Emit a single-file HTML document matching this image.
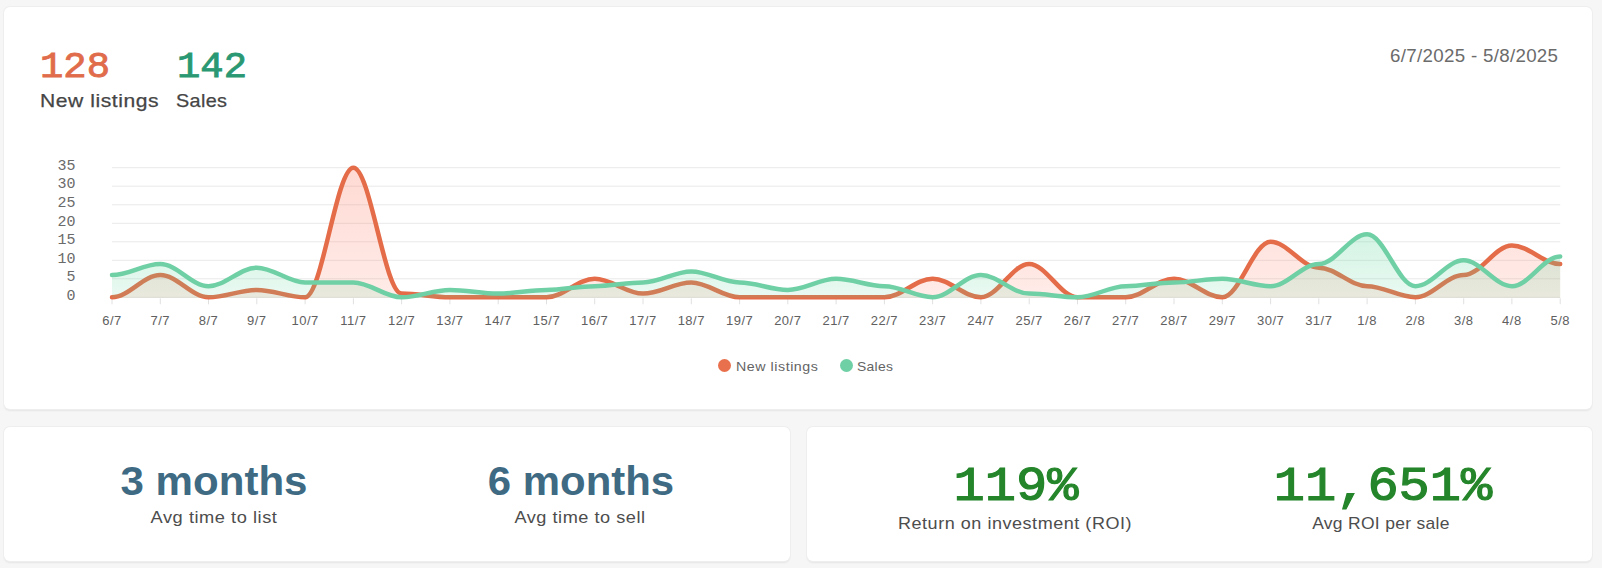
<!DOCTYPE html>
<html><head><meta charset="utf-8"><title>Dashboard</title>
<style>
html,body{margin:0;padding:0;}
body{width:1602px;height:568px;background:#f6f6f6;position:relative;overflow:hidden;font-family:"Liberation Sans",sans-serif;}
.card{position:absolute;background:#fff;border-radius:6px;box-shadow:0 0 0 1px #eeeeee,0 1.5px 2px rgba(0,0,0,0.07);}
.c1{left:4px;top:7px;width:1588px;height:402px;}
.c2{left:4px;top:427px;width:786px;height:134px;}
.c3{left:807px;top:427px;width:785px;height:134px;}
.t{position:absolute;white-space:nowrap;line-height:1;}
.L{transform-origin:0 50%;}
.C{transform-origin:50% 50%;}
.chart{position:absolute;left:0;top:0;}
.yl{font-family:"Liberation Mono",monospace;font-size:15px;fill:#6a6a6a;}
.xl{font-family:"Liberation Sans",sans-serif;font-size:13px;fill:#606060;}
.dot{position:absolute;width:13px;height:13px;border-radius:50%;}
</style></head><body>
<div class="card c1"></div>
<div class="card c2"></div>
<div class="card c3"></div>
<div class="t L" style="left:40px;top:49px;font:normal 37px 'Liberation Mono',monospace;color:#e06c4c;line-height:1;letter-spacing:0px;-webkit-text-stroke:0.9px #e06c4c;transform:scaleX(1.05);">128</div>
<div class="t L" style="left:177px;top:49px;font:normal 37px 'Liberation Mono',monospace;color:#2a9872;line-height:1;letter-spacing:0px;-webkit-text-stroke:0.9px #2a9872;transform:scaleX(1.05);">142</div>
<div class="t L" style="left:40px;top:91px;font:normal 19px 'Liberation Sans',sans-serif;color:#454545;line-height:1;letter-spacing:0.5px;-webkit-text-stroke:0.25px #454545;transform:scaleX(1.11);">New listings</div>
<div class="t L" style="left:176px;top:91px;font:normal 19px 'Liberation Sans',sans-serif;color:#454545;line-height:1;letter-spacing:0.3px;-webkit-text-stroke:0.25px #454545;transform:scaleX(1.045);">Sales</div>
<div class="t L" style="left:1390px;top:47px;font:normal 18px 'Liberation Sans',sans-serif;color:#6b6b6b;line-height:1;letter-spacing:0.3px;transform:scaleX(1.04);">6/7/2025 - 5/8/2025</div>
<div class="t C" style="left:214px;top:461px;font:bold 40px 'Liberation Sans',sans-serif;color:#3e6a83;line-height:1;letter-spacing:0px;transform:translateX(-50%) scaleX(1.052);">3 months</div>
<div class="t C" style="left:214px;top:509px;font:normal 17px 'Liberation Sans',sans-serif;color:#4d4d4d;line-height:1;letter-spacing:0.5px;transform:translateX(-50%) scaleX(1.073);">Avg time to list</div>
<div class="t C" style="left:581px;top:461px;font:bold 40px 'Liberation Sans',sans-serif;color:#3e6a83;line-height:1;letter-spacing:0px;transform:translateX(-50%) scaleX(1.048);">6 months</div>
<div class="t C" style="left:580px;top:509px;font:normal 17px 'Liberation Sans',sans-serif;color:#4d4d4d;line-height:1;letter-spacing:0.5px;transform:translateX(-50%) scaleX(1.067);">Avg time to sell</div>
<div class="t C" style="left:1016px;top:463px;font:normal 48px 'Liberation Mono',monospace;color:#24852a;line-height:1;letter-spacing:0px;-webkit-text-stroke:1.2px #24852a;transform:translateX(-50%) scaleX(1.084);">119%</div>
<div class="t C" style="left:1015px;top:515px;font:normal 17px 'Liberation Sans',sans-serif;color:#4d4d4d;line-height:1;letter-spacing:0.5px;transform:translateX(-50%) scaleX(1.06);">Return on investment (ROI)</div>
<div class="t C" style="left:1383px;top:463px;font:normal 48px 'Liberation Mono',monospace;color:#24852a;line-height:1;letter-spacing:0px;-webkit-text-stroke:1.2px #24852a;transform:translateX(-50%) scaleX(1.084);">11,651%</div>
<div class="t C" style="left:1381px;top:515px;font:normal 17px 'Liberation Sans',sans-serif;color:#4d4d4d;line-height:1;letter-spacing:0.3px;transform:translateX(-50%) scaleX(1.028);">Avg ROI per sale</div>
<div class="t L" style="left:736px;top:359.5px;font:normal 13px 'Liberation Sans',sans-serif;color:#646464;line-height:1;letter-spacing:0.5px;transform:scaleX(1.094);">New listings</div>
<div class="t L" style="left:857px;top:359.5px;font:normal 13px 'Liberation Sans',sans-serif;color:#646464;line-height:1;letter-spacing:0.3px;transform:scaleX(1.068);">Sales</div>
<svg class="chart" width="1602" height="568" viewBox="0 0 1602 568">
<defs><linearGradient id="go" x1="0" y1="0" x2="0" y2="1"><stop offset="0" stop-color="#ff6a50" stop-opacity="0.25"/><stop offset="1" stop-color="#ff6a50" stop-opacity="0.13"/></linearGradient><linearGradient id="gg" x1="0" y1="0" x2="0" y2="1"><stop offset="0" stop-color="#64d7a0" stop-opacity="0.28"/><stop offset="1" stop-color="#64d7a0" stop-opacity="0.14"/></linearGradient></defs>
<line x1="112.0" x2="1560.2" y1="297.3" y2="297.3" stroke="#e9e9e9" stroke-width="1"/>
<line x1="112.0" x2="1560.2" y1="278.8" y2="278.8" stroke="#e9e9e9" stroke-width="1"/>
<line x1="112.0" x2="1560.2" y1="260.3" y2="260.3" stroke="#e9e9e9" stroke-width="1"/>
<line x1="112.0" x2="1560.2" y1="241.8" y2="241.8" stroke="#e9e9e9" stroke-width="1"/>
<line x1="112.0" x2="1560.2" y1="223.3" y2="223.3" stroke="#e9e9e9" stroke-width="1"/>
<line x1="112.0" x2="1560.2" y1="204.8" y2="204.8" stroke="#e9e9e9" stroke-width="1"/>
<line x1="112.0" x2="1560.2" y1="186.2" y2="186.2" stroke="#e9e9e9" stroke-width="1"/>
<line x1="112.0" x2="1560.2" y1="167.7" y2="167.7" stroke="#e9e9e9" stroke-width="1"/>
<text x="75.5" y="299.5" text-anchor="end" class="yl">0</text>
<text x="75.5" y="281.0" text-anchor="end" class="yl">5</text>
<text x="75.5" y="262.5" text-anchor="end" class="yl">10</text>
<text x="75.5" y="244.0" text-anchor="end" class="yl">15</text>
<text x="75.5" y="225.5" text-anchor="end" class="yl">20</text>
<text x="75.5" y="206.9" text-anchor="end" class="yl">25</text>
<text x="75.5" y="188.4" text-anchor="end" class="yl">30</text>
<text x="75.5" y="169.9" text-anchor="end" class="yl">35</text>
<line x1="112.0" x2="112.0" y1="298.3" y2="304.3" stroke="#e0e0e0" stroke-width="1"/>
<line x1="160.3" x2="160.3" y1="298.3" y2="304.3" stroke="#e0e0e0" stroke-width="1"/>
<line x1="208.5" x2="208.5" y1="298.3" y2="304.3" stroke="#e0e0e0" stroke-width="1"/>
<line x1="256.8" x2="256.8" y1="298.3" y2="304.3" stroke="#e0e0e0" stroke-width="1"/>
<line x1="305.1" x2="305.1" y1="298.3" y2="304.3" stroke="#e0e0e0" stroke-width="1"/>
<line x1="353.4" x2="353.4" y1="298.3" y2="304.3" stroke="#e0e0e0" stroke-width="1"/>
<line x1="401.6" x2="401.6" y1="298.3" y2="304.3" stroke="#e0e0e0" stroke-width="1"/>
<line x1="449.9" x2="449.9" y1="298.3" y2="304.3" stroke="#e0e0e0" stroke-width="1"/>
<line x1="498.2" x2="498.2" y1="298.3" y2="304.3" stroke="#e0e0e0" stroke-width="1"/>
<line x1="546.5" x2="546.5" y1="298.3" y2="304.3" stroke="#e0e0e0" stroke-width="1"/>
<line x1="594.7" x2="594.7" y1="298.3" y2="304.3" stroke="#e0e0e0" stroke-width="1"/>
<line x1="643.0" x2="643.0" y1="298.3" y2="304.3" stroke="#e0e0e0" stroke-width="1"/>
<line x1="691.3" x2="691.3" y1="298.3" y2="304.3" stroke="#e0e0e0" stroke-width="1"/>
<line x1="739.6" x2="739.6" y1="298.3" y2="304.3" stroke="#e0e0e0" stroke-width="1"/>
<line x1="787.8" x2="787.8" y1="298.3" y2="304.3" stroke="#e0e0e0" stroke-width="1"/>
<line x1="836.1" x2="836.1" y1="298.3" y2="304.3" stroke="#e0e0e0" stroke-width="1"/>
<line x1="884.4" x2="884.4" y1="298.3" y2="304.3" stroke="#e0e0e0" stroke-width="1"/>
<line x1="932.6" x2="932.6" y1="298.3" y2="304.3" stroke="#e0e0e0" stroke-width="1"/>
<line x1="980.9" x2="980.9" y1="298.3" y2="304.3" stroke="#e0e0e0" stroke-width="1"/>
<line x1="1029.2" x2="1029.2" y1="298.3" y2="304.3" stroke="#e0e0e0" stroke-width="1"/>
<line x1="1077.5" x2="1077.5" y1="298.3" y2="304.3" stroke="#e0e0e0" stroke-width="1"/>
<line x1="1125.7" x2="1125.7" y1="298.3" y2="304.3" stroke="#e0e0e0" stroke-width="1"/>
<line x1="1174.0" x2="1174.0" y1="298.3" y2="304.3" stroke="#e0e0e0" stroke-width="1"/>
<line x1="1222.3" x2="1222.3" y1="298.3" y2="304.3" stroke="#e0e0e0" stroke-width="1"/>
<line x1="1270.6" x2="1270.6" y1="298.3" y2="304.3" stroke="#e0e0e0" stroke-width="1"/>
<line x1="1318.8" x2="1318.8" y1="298.3" y2="304.3" stroke="#e0e0e0" stroke-width="1"/>
<line x1="1367.1" x2="1367.1" y1="298.3" y2="304.3" stroke="#e0e0e0" stroke-width="1"/>
<line x1="1415.4" x2="1415.4" y1="298.3" y2="304.3" stroke="#e0e0e0" stroke-width="1"/>
<line x1="1463.7" x2="1463.7" y1="298.3" y2="304.3" stroke="#e0e0e0" stroke-width="1"/>
<line x1="1511.9" x2="1511.9" y1="298.3" y2="304.3" stroke="#e0e0e0" stroke-width="1"/>
<line x1="1560.2" x2="1560.2" y1="298.3" y2="304.3" stroke="#e0e0e0" stroke-width="1"/>
<text x="112.0" y="325" text-anchor="middle" class="xl" letter-spacing="0.5">6/7</text>
<text x="160.3" y="325" text-anchor="middle" class="xl" letter-spacing="0.5">7/7</text>
<text x="208.5" y="325" text-anchor="middle" class="xl" letter-spacing="0.5">8/7</text>
<text x="256.8" y="325" text-anchor="middle" class="xl" letter-spacing="0.5">9/7</text>
<text x="305.1" y="325" text-anchor="middle" class="xl" letter-spacing="0.5">10/7</text>
<text x="353.4" y="325" text-anchor="middle" class="xl" letter-spacing="0.5">11/7</text>
<text x="401.6" y="325" text-anchor="middle" class="xl" letter-spacing="0.5">12/7</text>
<text x="449.9" y="325" text-anchor="middle" class="xl" letter-spacing="0.5">13/7</text>
<text x="498.2" y="325" text-anchor="middle" class="xl" letter-spacing="0.5">14/7</text>
<text x="546.5" y="325" text-anchor="middle" class="xl" letter-spacing="0.5">15/7</text>
<text x="594.7" y="325" text-anchor="middle" class="xl" letter-spacing="0.5">16/7</text>
<text x="643.0" y="325" text-anchor="middle" class="xl" letter-spacing="0.5">17/7</text>
<text x="691.3" y="325" text-anchor="middle" class="xl" letter-spacing="0.5">18/7</text>
<text x="739.6" y="325" text-anchor="middle" class="xl" letter-spacing="0.5">19/7</text>
<text x="787.8" y="325" text-anchor="middle" class="xl" letter-spacing="0.5">20/7</text>
<text x="836.1" y="325" text-anchor="middle" class="xl" letter-spacing="0.5">21/7</text>
<text x="884.4" y="325" text-anchor="middle" class="xl" letter-spacing="0.5">22/7</text>
<text x="932.6" y="325" text-anchor="middle" class="xl" letter-spacing="0.5">23/7</text>
<text x="980.9" y="325" text-anchor="middle" class="xl" letter-spacing="0.5">24/7</text>
<text x="1029.2" y="325" text-anchor="middle" class="xl" letter-spacing="0.5">25/7</text>
<text x="1077.5" y="325" text-anchor="middle" class="xl" letter-spacing="0.5">26/7</text>
<text x="1125.7" y="325" text-anchor="middle" class="xl" letter-spacing="0.5">27/7</text>
<text x="1174.0" y="325" text-anchor="middle" class="xl" letter-spacing="0.5">28/7</text>
<text x="1222.3" y="325" text-anchor="middle" class="xl" letter-spacing="0.5">29/7</text>
<text x="1270.6" y="325" text-anchor="middle" class="xl" letter-spacing="0.5">30/7</text>
<text x="1318.8" y="325" text-anchor="middle" class="xl" letter-spacing="0.5">31/7</text>
<text x="1367.1" y="325" text-anchor="middle" class="xl" letter-spacing="0.5">1/8</text>
<text x="1415.4" y="325" text-anchor="middle" class="xl" letter-spacing="0.5">2/8</text>
<text x="1463.7" y="325" text-anchor="middle" class="xl" letter-spacing="0.5">3/8</text>
<text x="1511.9" y="325" text-anchor="middle" class="xl" letter-spacing="0.5">4/8</text>
<text x="1560.2" y="325" text-anchor="middle" class="xl" letter-spacing="0.5">5/8</text>
<path d="M112.00,297.30 C128.90,297.30 143.38,275.09 160.27,275.09 C177.17,275.09 191.65,297.30 208.55,297.30 C225.44,297.30 239.92,289.90 256.82,289.90 C273.72,289.90 288.20,297.30 305.09,297.30 C321.99,297.30 336.47,167.73 353.37,167.73 C370.26,167.73 384.74,293.60 401.64,293.60 C418.54,293.60 433.02,297.30 449.91,297.30 C466.81,297.30 481.29,297.30 498.19,297.30 C515.08,297.30 529.56,297.30 546.46,297.30 C563.36,297.30 577.84,278.79 594.73,278.79 C611.63,278.79 626.11,293.60 643.01,293.60 C659.90,293.60 674.38,282.49 691.28,282.49 C708.18,282.49 722.66,297.30 739.55,297.30 C756.45,297.30 770.93,297.30 787.83,297.30 C804.72,297.30 819.20,297.30 836.10,297.30 C853.00,297.30 867.48,297.30 884.37,297.30 C901.27,297.30 915.75,278.79 932.65,278.79 C949.54,278.79 964.02,297.30 980.92,297.30 C997.82,297.30 1012.30,263.98 1029.19,263.98 C1046.09,263.98 1060.57,297.30 1077.47,297.30 C1094.36,297.30 1108.84,297.30 1125.74,297.30 C1142.64,297.30 1157.12,278.79 1174.01,278.79 C1190.91,278.79 1205.39,297.30 1222.29,297.30 C1239.18,297.30 1253.66,241.77 1270.56,241.77 C1287.46,241.77 1301.94,267.68 1318.83,267.68 C1335.73,267.68 1350.21,286.19 1367.11,286.19 C1384.00,286.19 1398.48,297.30 1415.38,297.30 C1432.28,297.30 1446.76,275.09 1463.65,275.09 C1480.55,275.09 1495.03,245.47 1511.93,245.47 C1528.82,245.47 1543.30,263.98 1560.20,263.98 L1560.20,297.80 L112.00,297.80 Z" fill="url(#go)"/>
<path d="M112.00,297.30 C128.90,297.30 143.38,275.09 160.27,275.09 C177.17,275.09 191.65,297.30 208.55,297.30 C225.44,297.30 239.92,289.90 256.82,289.90 C273.72,289.90 288.20,297.30 305.09,297.30 C321.99,297.30 336.47,167.73 353.37,167.73 C370.26,167.73 384.74,293.60 401.64,293.60 C418.54,293.60 433.02,297.30 449.91,297.30 C466.81,297.30 481.29,297.30 498.19,297.30 C515.08,297.30 529.56,297.30 546.46,297.30 C563.36,297.30 577.84,278.79 594.73,278.79 C611.63,278.79 626.11,293.60 643.01,293.60 C659.90,293.60 674.38,282.49 691.28,282.49 C708.18,282.49 722.66,297.30 739.55,297.30 C756.45,297.30 770.93,297.30 787.83,297.30 C804.72,297.30 819.20,297.30 836.10,297.30 C853.00,297.30 867.48,297.30 884.37,297.30 C901.27,297.30 915.75,278.79 932.65,278.79 C949.54,278.79 964.02,297.30 980.92,297.30 C997.82,297.30 1012.30,263.98 1029.19,263.98 C1046.09,263.98 1060.57,297.30 1077.47,297.30 C1094.36,297.30 1108.84,297.30 1125.74,297.30 C1142.64,297.30 1157.12,278.79 1174.01,278.79 C1190.91,278.79 1205.39,297.30 1222.29,297.30 C1239.18,297.30 1253.66,241.77 1270.56,241.77 C1287.46,241.77 1301.94,267.68 1318.83,267.68 C1335.73,267.68 1350.21,286.19 1367.11,286.19 C1384.00,286.19 1398.48,297.30 1415.38,297.30 C1432.28,297.30 1446.76,275.09 1463.65,275.09 C1480.55,275.09 1495.03,245.47 1511.93,245.47 C1528.82,245.47 1543.30,263.98 1560.20,263.98" fill="none" stroke="#e46c49" stroke-width="4.5" stroke-linecap="round"/>
<path d="M112.00,275.09 C128.90,275.09 143.38,263.98 160.27,263.98 C177.17,263.98 191.65,286.19 208.55,286.19 C225.44,286.19 239.92,267.68 256.82,267.68 C273.72,267.68 288.20,282.49 305.09,282.49 C321.99,282.49 336.47,282.49 353.37,282.49 C370.26,282.49 384.74,297.30 401.64,297.30 C418.54,297.30 433.02,289.90 449.91,289.90 C466.81,289.90 481.29,293.60 498.19,293.60 C515.08,293.60 529.56,289.90 546.46,289.90 C563.36,289.90 577.84,286.19 594.73,286.19 C611.63,286.19 626.11,282.49 643.01,282.49 C659.90,282.49 674.38,271.39 691.28,271.39 C708.18,271.39 722.66,282.49 739.55,282.49 C756.45,282.49 770.93,289.90 787.83,289.90 C804.72,289.90 819.20,278.79 836.10,278.79 C853.00,278.79 867.48,286.19 884.37,286.19 C901.27,286.19 915.75,297.30 932.65,297.30 C949.54,297.30 964.02,275.09 980.92,275.09 C997.82,275.09 1012.30,293.60 1029.19,293.60 C1046.09,293.60 1060.57,297.30 1077.47,297.30 C1094.36,297.30 1108.84,286.19 1125.74,286.19 C1142.64,286.19 1157.12,282.49 1174.01,282.49 C1190.91,282.49 1205.39,278.79 1222.29,278.79 C1239.18,278.79 1253.66,286.19 1270.56,286.19 C1287.46,286.19 1301.94,263.98 1318.83,263.98 C1335.73,263.98 1350.21,234.37 1367.11,234.37 C1384.00,234.37 1398.48,286.19 1415.38,286.19 C1432.28,286.19 1446.76,260.28 1463.65,260.28 C1480.55,260.28 1495.03,286.19 1511.93,286.19 C1528.82,286.19 1543.30,256.58 1560.20,256.58 L1560.20,297.80 L112.00,297.80 Z" fill="url(#gg)"/>
<path d="M112.00,275.09 C128.90,275.09 143.38,263.98 160.27,263.98 C177.17,263.98 191.65,286.19 208.55,286.19 C225.44,286.19 239.92,267.68 256.82,267.68 C273.72,267.68 288.20,282.49 305.09,282.49 C321.99,282.49 336.47,282.49 353.37,282.49 C370.26,282.49 384.74,297.30 401.64,297.30 C418.54,297.30 433.02,289.90 449.91,289.90 C466.81,289.90 481.29,293.60 498.19,293.60 C515.08,293.60 529.56,289.90 546.46,289.90 C563.36,289.90 577.84,286.19 594.73,286.19 C611.63,286.19 626.11,282.49 643.01,282.49 C659.90,282.49 674.38,271.39 691.28,271.39 C708.18,271.39 722.66,282.49 739.55,282.49 C756.45,282.49 770.93,289.90 787.83,289.90 C804.72,289.90 819.20,278.79 836.10,278.79 C853.00,278.79 867.48,286.19 884.37,286.19 C901.27,286.19 915.75,297.30 932.65,297.30 C949.54,297.30 964.02,275.09 980.92,275.09 C997.82,275.09 1012.30,293.60 1029.19,293.60 C1046.09,293.60 1060.57,297.30 1077.47,297.30 C1094.36,297.30 1108.84,286.19 1125.74,286.19 C1142.64,286.19 1157.12,282.49 1174.01,282.49 C1190.91,282.49 1205.39,278.79 1222.29,278.79 C1239.18,278.79 1253.66,286.19 1270.56,286.19 C1287.46,286.19 1301.94,263.98 1318.83,263.98 C1335.73,263.98 1350.21,234.37 1367.11,234.37 C1384.00,234.37 1398.48,286.19 1415.38,286.19 C1432.28,286.19 1446.76,260.28 1463.65,260.28 C1480.55,260.28 1495.03,286.19 1511.93,286.19 C1528.82,286.19 1543.30,256.58 1560.20,256.58" fill="none" stroke="#6fcfa5" stroke-width="4.5" stroke-linecap="round"/>
</svg>
<div class="dot" style="left:718px;top:359px;background:#e9704c;"></div>
<div class="dot" style="left:840px;top:359px;background:#6fcfa5;"></div>
</body></html>
